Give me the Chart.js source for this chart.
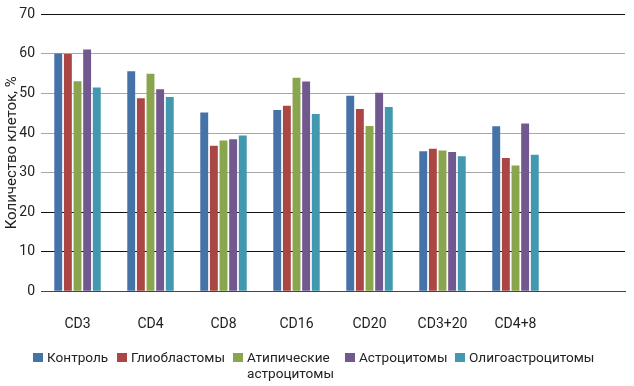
<!DOCTYPE html>
<html><head><meta charset="utf-8">
<script src="https://cdn.jsdelivr.net/npm/chart.js@4.4.0/dist/chart.umd.min.js"></script>
<style>
html,body{margin:0;padding:0;background:#fff}
#wrap{position:relative;width:634px;height:386px}
#legend{position:absolute;left:0;top:0;width:634px;height:386px;pointer-events:none;font-family:Roboto,'DejaVu Sans',sans-serif;font-size:13.6px;color:#222;line-height:16px}
.li{position:absolute;top:349px;white-space:nowrap}
.bx{position:absolute;top:4px;width:10px;height:9px}
.tx{position:absolute;left:14px;top:0}
</style>
</head><body><div id="wrap"><canvas id="c"></canvas><div id="legend"></div></div>
<script>
const categories = ["CD3","CD4","CD8","CD16","CD20","CD3+20","CD4+8",""];
const seriesNames = ["Контроль","Глиобластомы",["Атипические","астроцитомы"],"Астроцитомы","Олигоастроцитомы"];
const kontrol   = [60.1, 55.6, 45.2, 45.8, 49.4, 35.4, 41.7, null];
const glio      = [60.0, 48.8, 36.8, 46.9, 46.1, 36.0, 33.7, null];
const atyp      = [53.1, 55.0, 38.1, 54.0, 41.8, 35.6, 31.8, null];
const astro     = [61.1, 51.1, 38.4, 53.0, 50.2, 35.2, 42.4, null];
const oligo     = [51.5, 49.1, 39.4, 44.8, 46.6, 34.1, 34.5, null];
const yTicks    = [0,10,20,30,40,50,60,70];
const colors = ["#4572A7","#AA4643","#89A54E","#71588F","#4198AF"];
const values = [kontrol, glio, atyp, astro, oligo];
const legendLeft = [33, 117, 233, 345, 455];
const F = "Roboto, 'DejaVu Sans', sans-serif";

const chart = new Chart(document.getElementById('c'), {
  type: 'bar',
  data: {
    labels: categories,
    datasets: values.map((v,i)=>({
      label: Array.isArray(seriesNames[i]) ? seriesNames[i].join(' ') : seriesNames[i],
      data: v, backgroundColor: colors[i],
      borderWidth: 0, barPercentage: 0.82, categoryPercentage: 0.66
    }))
  },
  options: {
    responsive: true, maintainAspectRatio: false, animation: false,
    layout: { padding: { top: 2, right: 9, left: 0, bottom: 36 } },
    plugins: { tooltip: { enabled: false }, legend: { display: false } },
    scales: {
      x: {
        grid: { display: false },
        border: { display: true, color: '#444', width: 1 },
        ticks: { font: { family: F, size: 14 }, color: '#222', padding: 17 }
      },
      y: {
        min: 0, max: 70,
        afterBuildTicks(s){ s.ticks = yTicks.map(v=>({value:v})); },
        afterFit(s){ s.width = 41; },
        border: { display: false },
        grid: {
          color: c => ([70,20,10,0].includes(c.tick.value) ? '#111' : '#a8a8a8'),
          lineWidth: 1, drawTicks: false
        },
        ticks: { font: { family: F, size: 14 }, color: '#222', padding: 6 },
        title: { display: true, text: 'Количество клеток, %', font: { family: F, size: 15 }, color: '#222', padding: { top: 3, bottom: 0 } }
      }
    }
  }
});

const lg = document.getElementById('legend');
seriesNames.forEach((n,i)=>{
  const it = document.createElement('div'); it.className='li'; it.style.left = legendLeft[i]+'px';
  const b = document.createElement('div'); b.className='bx'; b.style.background = colors[i];
  const t = document.createElement('div'); t.className='tx';
  (Array.isArray(n)?n:[n]).forEach((line,k)=>{ if(k) t.appendChild(document.createElement('br')); t.appendChild(document.createTextNode(line)); });
  it.appendChild(b); it.appendChild(t); lg.appendChild(it);
});
</script></body></html>
